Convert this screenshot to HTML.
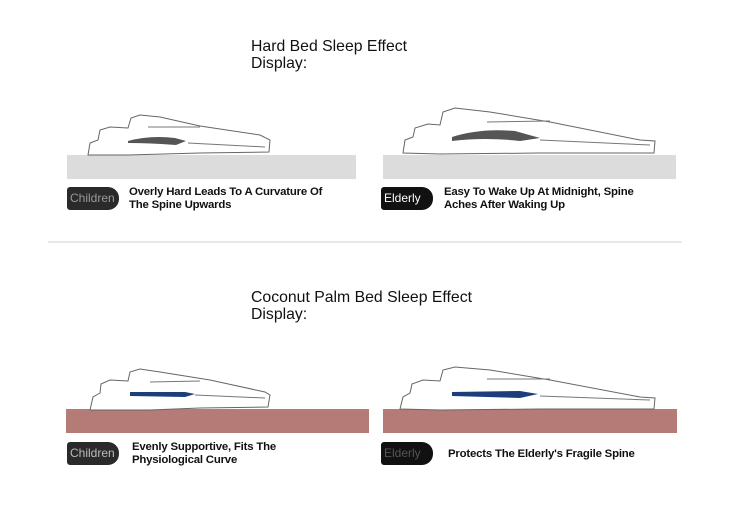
<!DOCTYPE html>
<html><head><style>
body{margin:0;width:750px;height:510px;background:#fff;position:relative;font-family:"Liberation Sans",Arial,sans-serif;overflow:hidden}
.t{position:absolute;font-size:15.8px;color:#111;line-height:17px}
.c{position:absolute;font-size:11.4px;font-weight:bold;color:#111;line-height:13px;letter-spacing:-0.2px}
.b{position:absolute;height:23px;border-radius:3px 11px 11px 3px;background:#2a2a2a;color:#aaa;font-size:12px;line-height:23px;padding-left:3px;box-sizing:border-box}
</style></head><body>
<div class="t" style="left:251px;top:38px">Hard Bed Sleep Effect<br>Display:</div>
<div class="t" style="left:251px;top:289px">Coconut Palm Bed Sleep Effect<br>Display:</div>
<div style="position:absolute;left:48px;top:241px;width:634px;height:2px;background:#e8e8e8"></div>
<svg width="750" height="510" style="position:absolute;left:0;top:0">
<rect x="67" y="155" width="289" height="24" fill="#dcdcdc"/>
<rect x="383" y="155" width="293" height="24" fill="#dcdcdc"/>
<rect x="66" y="409" width="303" height="24" fill="#b57c77"/>
<rect x="383" y="409" width="294" height="24" fill="#b57c77"/>
<g fill="#fff" stroke="#666" stroke-width="1">
<path d="M88,155 L90,143 L98,140 L100,130 L110,127 L128,128 L131,118 L140,115 L160,117 L200,126 L260,135 L270,140 L269,152 L200,153 L128,155 Z"/>
<path d="M403,153 L405,140 L413,137 L415,128 L428,124 L440,125 L443,112 L455,108 L490,112 L550,122 L640,140 L655,141 L654,153 L540,153 L440,154 Z"/>
<path d="M90,410 L93,397 L100,393 L101,384 L110,380 L128,381 L130,372 L140,369 L160,372 L210,380 L265,392 L270,395 L268,407 L200,408 L150,410 Z"/>
<path d="M400,409 L403,397 L410,393 L412,384 L423,380 L440,381 L443,370 L455,367 L490,370 L550,380 L640,397 L655,398 L654,409 L540,409 L440,410 Z"/>
</g>
<g stroke="#777" stroke-width="1" fill="none">
<path d="M148,127 L200,127"/><path d="M188,143 L265,147"/>
<path d="M487,122 L550,121"/><path d="M540,140 L650,145"/>
<path d="M150,382 L200,381"/><path d="M195,395 L265,398"/>
<path d="M487,379 L550,379"/><path d="M540,396 L650,400"/>
</g>
<path d="M128,141 Q150,135 175,138 L186,141 L176,145 Q150,143 128,143Z" fill="#555"/>
<path d="M452,137 Q480,128 515,131 L540,138 L520,141 Q485,137 452,141Z" fill="#555"/>
<path d="M130,392 L185,392 L195,394 L185,397 L130,396Z" fill="#1c3f7a"/>
<path d="M452,392 L520,391 L538,394 L520,398 L452,396Z" fill="#1c3f7a"/>
</svg>
<div class="b" style="left:67px;top:187px;width:52px;color:#999">Children</div>
<div class="b" style="left:381px;top:187px;width:52px;color:#fff;background:#111">Elderly</div>
<div class="b" style="left:67px;top:442px;width:52px;color:#bbb">Children</div>
<div class="b" style="left:381px;top:442px;width:52px;color:#555;background:#111">Elderly</div>
<div class="c" style="left:129px;top:186px">Overly Hard Leads To A Curvature Of<br>The Spine Upwards</div>
<div class="c" style="left:444px;top:186px">Easy To Wake Up At Midnight, Spine<br>Aches After Waking Up</div>
<div class="c" style="left:132px;top:441px">Evenly Supportive, Fits The<br>Physiological Curve</div>
<div class="c" style="left:448px;top:448px">Protects The Elderly's Fragile Spine</div>
</body></html>
